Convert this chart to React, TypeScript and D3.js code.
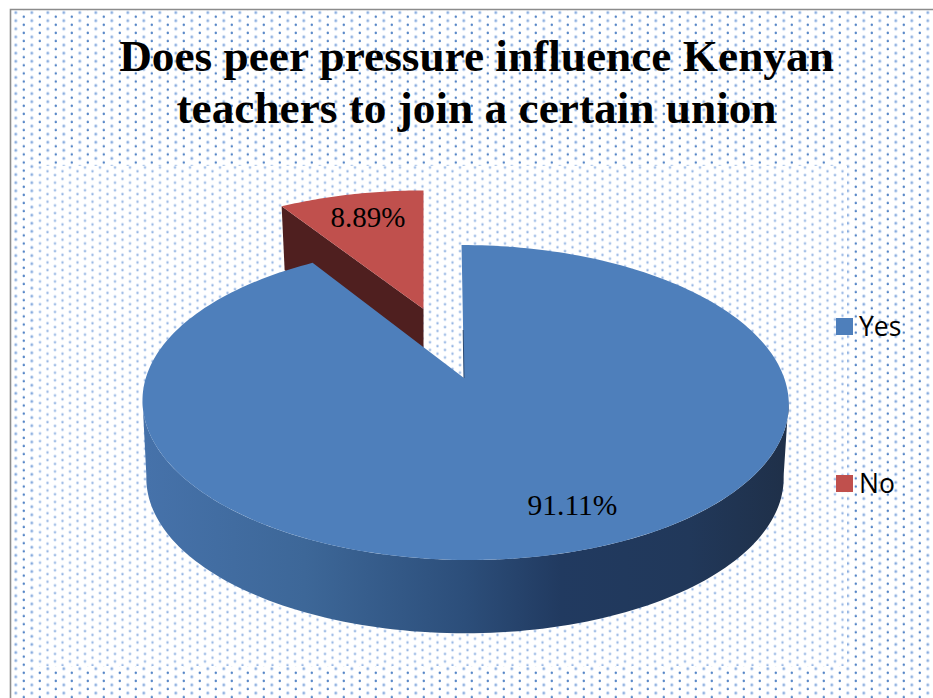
import React from "react";
import * as d3 from "d3";

const categories = ["Yes", "No"];
const values = [91.11, 8.89];
const valueLabels = ["91.11%", "8.89%"];
const titleLines = ["Does peer pressure influence Kenyan", "teachers to join a certain union"];
const topColors = ["#4e7fbb", "#c0504d"];
const sideGradientStops: [number, string][] = [
  [0, "#4672aa"],
  [0.25, "#3d6798"],
  [0.5, "#2c4e7a"],
  [0.65, "#213a60"],
  [0.85, "#21385a"],
  [1, "#1f3049"],
];

const W = 933;
const H = 698;
const K = 0.1556;

type Frame = { cx: number; cy: number; a: number; b: number; s: number };
const project = (f: Frame, theta: number): [number, number] => {
  const u = Math.sin(theta);
  const v = -Math.cos(theta);
  const w = 1 - K * v;
  return [f.cx + (f.a * u + f.s * v) / w, f.cy + (f.b * v) / w];
};

const apex: [number, number] = [464, 378];
const topFrame: Frame = { cx: 465, cy: 378, a: 319.2, b: 153.7, s: 4 };
const bottomFrame: Frame = { cx: 465, cy: 454, a: 314.8, b: 151.4, s: 0 };
const redFrame: Frame = { cx: 423.5, cy: 309, a: 303, b: 137, s: 0 };

const line = d3.line<[number, number]>();

const arcPoints = (f: Frame, t0: number, t1: number, n = 120): [number, number][] =>
  d3.range(n + 1).map((i) => project(f, t0 + ((t1 - t0) * i) / n));

export default function App() {
  const pie = d3.pie<number>().sort(null).value((d) => d);
  const arcs = pie(values);
  const yes = arcs[0];
  const no = arcs[1];

  const yesArc = arcPoints(topFrame, yes.startAngle, yes.endAngle, 240);
  const yesTop = [apex, ...yesArc];
  const wallStart = (98 * Math.PI) / 180;
  const wallEnd = (262 * Math.PI) / 180;
  const wall = [...arcPoints(topFrame, wallStart, wallEnd), ...arcPoints(bottomFrame, wallStart, wallEnd).reverse()];

  const noArc = arcPoints(redFrame, no.startAngle, no.endAngle, 40);
  const noTop = [[redFrame.cx, redFrame.cy] as [number, number], ...noArc];
  const left = noArc[0];
  const noWall: [number, number][] = [
    left,
    [left[0] + 3, left[1] + 64],
    [redFrame.cx, redFrame.cy + 41],
    [redFrame.cx, redFrame.cy],
  ];

  const legendY = d3.scalePoint<string>().domain(categories).range([326.5, 483.5]);
  const font = "'Liberation Serif', 'Times New Roman', serif";

  return (
    <svg
      width={W}
      height={H}
      viewBox={`0 0 ${W} ${H}`}
      style={{ position: "absolute", left: 0, top: 0, display: "block", background: "#fff" }}
    >
      <defs>
        <pattern id="outerDots" patternUnits="userSpaceOnUse" x={10} y={8.7} width={16} height={8.1}>
          <circle cx={5.8} cy={4} r={1.9} fill="#cfdef4" />
          <circle cx={5.8} cy={4} r={1} fill="#85a9dc" />
          <circle cx={13.8} cy={8} r={1.2} fill="#5585c6" />
          <circle cx={13.8} cy={0} r={1.2} fill="#5585c6" />
        </pattern>
        <pattern id="innerDots" patternUnits="userSpaceOnUse" x={36} y={165.5} width={15} height={7.6}>
          <circle cx={4} cy={2} r={1.7} fill="#d6e3f6" />
          <circle cx={4} cy={2} r={0.9} fill="#8fb1e0" />
          <circle cx={11.5} cy={5.8} r={1.7} fill="#d6e3f6" />
          <circle cx={11.5} cy={5.8} r={0.9} fill="#8fb1e0" />
        </pattern>
        <linearGradient id="sideGrad" gradientUnits="userSpaceOnUse" x1={145} x2={785} y1={0} y2={0}>
          {sideGradientStops.map(([o, c]) => (
            <stop key={o} offset={o} stopColor={c} />
          ))}
        </linearGradient>
      </defs>

      <rect x={10} y={9} width={W - 10} height={H - 9} fill="url(#outerDots)" />
      <rect x={37} y={166} width={810} height={500} fill="#fff" />
      <rect x={37} y={166} width={810} height={500} fill="url(#innerDots)" />
      <path d={`M10.5,${H}V9.5H${W}`} fill="none" stroke="#8c8c8c" strokeWidth={1.6} />

      {titleLines.map((t, i) => (
        <text
          key={t}
          x={476.5}
          y={71 + i * 52}
          textAnchor="middle"
          fontFamily={font}
          fontWeight="bold"
          fontSize={45.3}
          fill="#000"
        >
          {t}
        </text>
      ))}

      <path d={line(noWall)! + "Z"} fill="#4f1f1f" />
      <path d={line(noTop)! + "Z"} fill={topColors[1]} />

      <path d={line(wall)! + "Z"} fill="url(#sideGrad)" />
      <path d={line(yesTop)! + "Z"} fill={topColors[0]} />
      <path d={`M463.2,330L${apex[0]},${apex[1]}`} stroke="#2b4a73" strokeWidth={1} fill="none" />

      <text x={572.5} y={515} textAnchor="middle" fontFamily={font} fontSize={29.5} fill="#000">
        {valueLabels[0]}
      </text>
      <text x={368} y={227} textAnchor="middle" fontFamily={font} fontSize={29} fill="#000">
        {valueLabels[1]}
      </text>

      {categories.map((c, i) => (
        <g key={c}>
          <rect x={836} y={legendY(c)! - 8.5} width={17} height={17} fill={topColors[i]} />
          <text
            x={859}
            y={legendY(c)! + 9}
            fontFamily="'Open Sans', 'Noto Sans', sans-serif"
            fontSize={26.5}
            fill="#000"
          >
            {c}
          </text>
        </g>
      ))}
    </svg>
  );
}
